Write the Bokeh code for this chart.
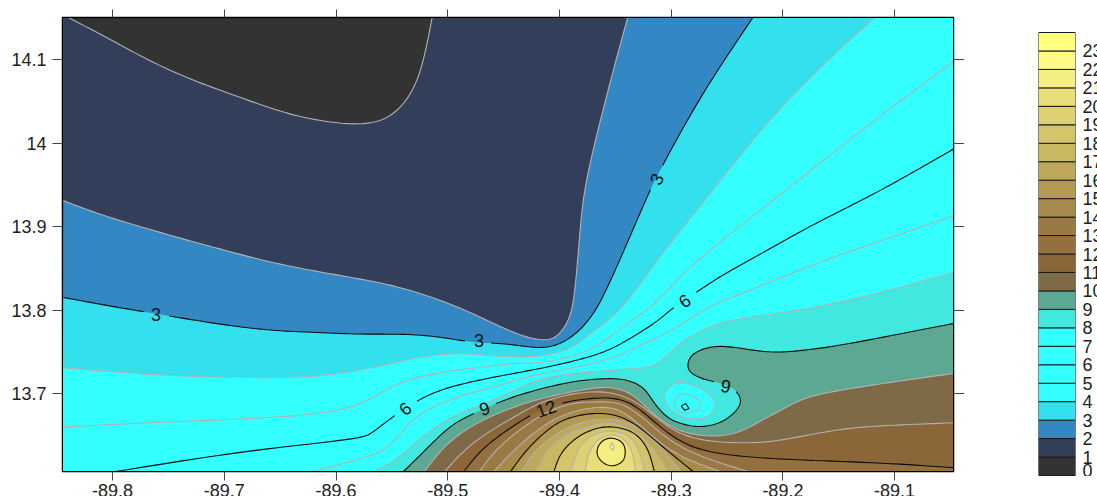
import numpy as np
from bokeh.embed import file_html
from bokeh.resources import INLINE
from bokeh.plotting import figure
from bokeh.layouts import row
from bokeh.models import LinearAxis, FixedTicker
from bokeh.core.properties import value

FONT = "Liberation Sans"

# axis limits and ticks
x_min, x_max = -89.8448, -89.0473
y_min, y_max = 13.6066, 14.1503
x_ticks = [-89.8, -89.7, -89.6, -89.5, -89.4, -89.3, -89.2, -89.1]
x_tick_labels = ["-89.8", "-89.7", "-89.6", "-89.5", "-89.4", "-89.3", "-89.2", "-89.1"]
y_ticks = [13.7, 13.8, 13.9, 14.0, 14.1]
y_tick_labels = ["13.7", "13.8", "13.9", "14", "14.1"]

# colour scale
levels = list(range(0, 25))
band_colors = ["#333333", "#333f5a", "#3388c4", "#33e0ee", "#33ffff", "#33ffff", "#33ffff", "#33ffff",
               "#40e8e0", "#5ca892", "#7f6a47", "#8a6638", "#947040", "#9a7a42", "#a88a4a", "#b29a52",
               "#bfa85a", "#c8b862", "#d4c56a", "#dfd072", "#eade78", "#f5ee80", "#fdfb85", "#ffff80"]

# contour lines (lon, lat)
lon_1 = [-89.839, -89.802, -89.766, -89.733, -89.697, -89.661, -89.631, -89.582, -89.555, -89.537, -89.526, -89.519, -89.514]
lat_1 = [14.150, 14.124, 14.098, 14.078, 14.060, 14.043, 14.031, 14.022, 14.029, 14.051, 14.080, 14.116, 14.150]
lon_2 = [-89.844, -89.810, -89.763, -89.709, -89.661, -89.616, -89.578, -89.542, -89.497, -89.464, -89.446, -89.428, -89.409, -89.399, -89.391, -89.387, -89.383, -89.379, -89.372, -89.363, -89.352, -89.339]
lat_2 = [13.931, 13.914, 13.895, 13.875, 13.858, 13.846, 13.837, 13.827, 13.807, 13.787, 13.776, 13.767, 13.764, 13.773, 13.791, 13.815, 13.871, 13.931, 13.979, 14.029, 14.086, 14.150]
lon_3 = [-89.844, -89.799, -89.763, -89.709, -89.661, -89.616, -89.578, -89.539, -89.509, -89.476, -89.452, -89.428, -89.417, -89.402, -89.384, -89.370, -89.360, -89.345, -89.323, -89.314, -89.273, -89.227]
lat_3 = [13.815, 13.804, 13.796, 13.784, 13.776, 13.773, 13.771, 13.771, 13.768, 13.761, 13.760, 13.756, 13.755, 13.758, 13.773, 13.795, 13.819, 13.863, 13.931, 13.957, 14.057, 14.150]
lon_4 = [-89.844, -89.781, -89.721, -89.652, -89.616, -89.578, -89.548, -89.518, -89.488, -89.459, -89.428, -89.412, -89.390, -89.372, -89.348, -89.330, -89.306, -89.270, -89.220, -89.170, -89.118]
lat_4 = [13.731, 13.724, 13.720, 13.719, 13.721, 13.728, 13.737, 13.745, 13.748, 13.745, 13.744, 13.746, 13.754, 13.772, 13.797, 13.827, 13.871, 13.931, 14.015, 14.086, 14.150]
lon_5 = [-89.844, -89.751, -89.647, -89.602, -89.578, -89.560, -89.539, -89.503, -89.473, -89.443, -89.417, -89.387, -89.363, -89.336, -89.315, -89.291, -89.255, -89.209, -89.130, -89.047]
lat_5 = [13.660, 13.666, 13.672, 13.679, 13.688, 13.701, 13.715, 13.726, 13.731, 13.736, 13.737, 13.745, 13.760, 13.787, 13.807, 13.841, 13.883, 13.931, 14.015, 14.098]
lon_6 = [-89.800, -89.676, -89.578, -89.569, -89.560, -89.548, -89.530, -89.509, -89.482, -89.461, -89.417, -89.387, -89.357, -89.333, -89.312, -89.298, -89.281, -89.255, -89.220, -89.172, -89.130, -89.094, -89.047]
lat_6 = [13.606, 13.632, 13.647, 13.652, 13.661, 13.673, 13.689, 13.703, 13.713, 13.719, 13.730, 13.739, 13.751, 13.769, 13.787, 13.803, 13.818, 13.841, 13.867, 13.903, 13.931, 13.957, 13.993]
lon_7 = [-89.622, -89.578, -89.562, -89.548, -89.533, -89.512, -89.488, -89.461, -89.417, -89.387, -89.354, -89.324, -89.291, -89.271, -89.231, -89.172, -89.112, -89.047]
lat_7 = [13.606, 13.622, 13.629, 13.643, 13.667, 13.685, 13.697, 13.707, 13.724, 13.731, 13.742, 13.760, 13.782, 13.801, 13.823, 13.855, 13.883, 13.913]
lon_8 = [-89.567, -89.548, -89.527, -89.503, -89.479, -89.461, -89.432, -89.417, -89.387, -89.342, -89.315, -89.306, -89.291, -89.276, -89.255, -89.231, -89.172, -89.112, -89.047]
lat_8 = [13.606, 13.619, 13.643, 13.667, 13.682, 13.691, 13.709, 13.717, 13.724, 13.729, 13.733, 13.743, 13.761, 13.773, 13.785, 13.791, 13.803, 13.821, 13.845]
lon_9 = [-89.540, -89.527, -89.509, -89.494, -89.477, -89.457, -89.432, -89.390, -89.357, -89.339, -89.324, -89.315, -89.303, -89.291, -89.276, -89.258, -89.244, -89.237, -89.244, -89.255, -89.273, -89.284, -89.285, -89.280, -89.264, -89.247, -89.217, -89.195, -89.157, -89.112, -89.047]
lat_9 = [13.606, 13.623, 13.647, 13.664, 13.676, 13.688, 13.700, 13.714, 13.718, 13.716, 13.706, 13.688, 13.671, 13.664, 13.660, 13.664, 13.676, 13.691, 13.706, 13.712, 13.718, 13.727, 13.737, 13.748, 13.756, 13.756, 13.750, 13.750, 13.756, 13.767, 13.784]
lon_10 = [-89.521, -89.506, -89.488, -89.461, -89.425, -89.385, -89.357, -89.336, -89.321, -89.306, -89.285, -89.255, -89.237, -89.220, -89.199, -89.181, -89.160, -89.130, -89.085, -89.047]
lat_10 = [13.606, 13.632, 13.653, 13.673, 13.691, 13.703, 13.708, 13.700, 13.682, 13.665, 13.652, 13.649, 13.655, 13.667, 13.682, 13.694, 13.701, 13.708, 13.717, 13.724]
lon_11 = [-89.503, -89.488, -89.470, -89.443, -89.417, -89.387, -89.357, -89.333, -89.315, -89.294, -89.267, -89.220, -89.190, -89.145, -89.101, -89.047]
lat_11 = [13.606, 13.628, 13.648, 13.670, 13.689, 13.700, 13.702, 13.691, 13.673, 13.653, 13.643, 13.641, 13.647, 13.658, 13.662, 13.665]
lon_12 = [-89.486, -89.470, -89.448, -89.423, -89.397, -89.372, -89.348, -89.330, -89.309, -89.288, -89.262, -89.220, -89.175, -89.101, -89.047]
lat_12 = [13.606, 13.632, 13.655, 13.676, 13.689, 13.694, 13.694, 13.683, 13.659, 13.640, 13.629, 13.623, 13.620, 13.616, 13.611]
lon_13 = [-89.472, -89.457, -89.434, -89.412, -89.390, -89.363, -89.345, -89.327, -89.309, -89.282, -89.230]
lat_13 = [13.606, 13.632, 13.658, 13.677, 13.688, 13.690, 13.688, 13.673, 13.652, 13.629, 13.606]
lon_14 = [-89.459, -89.443, -89.421, -89.399, -89.372, -89.349, -89.332, -89.309, -89.287, -89.255]
lat_14 = [13.606, 13.629, 13.655, 13.673, 13.683, 13.682, 13.667, 13.640, 13.622, 13.606]
lon_15 = [-89.444, -89.432, -89.417, -89.399, -89.378, -89.357, -89.336, -89.312, -89.280]
lat_15 = [13.606, 13.628, 13.649, 13.667, 13.675, 13.676, 13.667, 13.641, 13.606]
lon_16 = [-89.434, -89.423, -89.401, -89.381, -89.354, -89.327, -89.309, -89.291]
lat_16 = [13.606, 13.629, 13.653, 13.665, 13.670, 13.658, 13.635, 13.606]
lon_17 = [-89.421, -89.411, -89.392, -89.372, -89.354, -89.332, -89.315, -89.303]
lat_17 = [13.606, 13.632, 13.652, 13.661, 13.665, 13.654, 13.632, 13.606]
lon_18 = [-89.405, -89.399, -89.383, -89.365, -89.351, -89.333, -89.321, -89.315]
lat_18 = [13.606, 13.628, 13.649, 13.659, 13.660, 13.653, 13.634, 13.606]
lon_19 = [-89.390, -89.383, -89.370, -89.352, -89.336, -89.327, -89.324]
lat_19 = [13.606, 13.635, 13.651, 13.655, 13.648, 13.625, 13.606]
lon_20 = [-89.377, -89.373, -89.363, -89.352, -89.340, -89.334, -89.332]
lat_20 = [13.606, 13.632, 13.647, 13.651, 13.643, 13.625, 13.606]
lon_21 = [-89.353, -89.343, -89.341, -89.343, -89.352, -89.360, -89.366, -89.366, -89.361]
lat_21 = [13.647, 13.641, 13.629, 13.619, 13.613, 13.616, 13.625, 13.635, 13.644]
lon_22 = [-89.353, -89.351, -89.352, -89.355]
lat_22 = [13.641, 13.636, 13.632, 13.636]

# small low-value pocket east of the peak
lon_pocket_8 = [-89.306, -89.298, -89.288, -89.273, -89.260, -89.262, -89.271, -89.285, -89.298, -89.305]
lat_pocket_8 = [13.701, 13.712, 13.713, 13.706, 13.691, 13.679, 13.670, 13.670, 13.677, 13.689]
lon_pocket_7 = [-89.298, -89.294, -89.287, -89.276, -89.273, -89.278, -89.288, -89.295]
lat_pocket_7 = [13.689, 13.698, 13.700, 13.693, 13.685, 13.679, 13.676, 13.681]
lon_pocket_6 = [-89.287, -89.284, -89.288, -89.291]
lat_pocket_6 = [13.688, 13.682, 13.680, 13.685]

# contour labels
label_text = ["3", "3", "3", "6", "6", "9", "9", "12"]
label_level = [3, 3, 3, 6, 6, 9, 9, 12]
label_lon = [-89.761, -89.472, -89.313, -89.538, -89.288, -89.467, -89.251, -89.412]
label_lat = [13.795, 13.763, 13.957, 13.682, 13.811, 13.682, 13.709, 13.682]
label_deg = [0, 0, 62, 40, 35, 18, -10, 20]
label_gap = [10.5, 10.5, 10.5, 12, 12, 10.5, 10.5, 16]

contours = {1: (lon_1, lat_1), 2: (lon_2, lat_2), 3: (lon_3, lat_3), 4: (lon_4, lat_4), 5: (lon_5, lat_5),
            6: (lon_6, lat_6), 7: (lon_7, lat_7), 8: (lon_8, lat_8), 9: (lon_9, lat_9), 10: (lon_10, lat_10),
            11: (lon_11, lat_11), 12: (lon_12, lat_12), 13: (lon_13, lat_13), 14: (lon_14, lat_14),
            15: (lon_15, lat_15), 16: (lon_16, lat_16), 17: (lon_17, lat_17), 18: (lon_18, lat_18),
            19: (lon_19, lat_19), 20: (lon_20, lat_20), 21: (lon_21, lat_21), 22: (lon_22, lat_22)}

FW, FH = 891, 454
SX = FW / (x_max - x_min)
SY = FH / (y_max - y_min)
GREY = "#b2b2b2"
BLACK = "#0c0c0c"


def smooth(xs, ys, closed=False, n=8, passes=14):
    P = np.c_[np.asarray(xs) * SX, np.asarray(ys) * SY]
    if closed:
        P = np.r_[P[-1:], P, P[:2]]
    else:
        P = np.r_[2 * P[:1] - P[1:2], P, 2 * P[-1:] - P[-2:-1]]
    out = []
    for i in range(len(P) - 3):
        p0, p1, p2, p3 = P[i:i + 4]
        t0 = 0.0
        t1 = t0 + max(np.linalg.norm(p1 - p0), 1e-6) ** 0.5
        t2 = t1 + max(np.linalg.norm(p2 - p1), 1e-6) ** 0.5
        t3 = t2 + max(np.linalg.norm(p3 - p2), 1e-6) ** 0.5
        t = np.linspace(t1, t2, n, endpoint=False)[:, None]
        a1 = (t1 - t) / (t1 - t0) * p0 + (t - t0) / (t1 - t0) * p1
        a2 = (t2 - t) / (t2 - t1) * p1 + (t - t1) / (t2 - t1) * p2
        a3 = (t3 - t) / (t3 - t2) * p2 + (t - t2) / (t3 - t2) * p3
        b1 = (t2 - t) / (t2 - t0) * a1 + (t - t0) / (t2 - t0) * a2
        b2 = (t3 - t) / (t3 - t1) * a2 + (t - t1) / (t3 - t1) * a3
        out.append((t2 - t) / (t2 - t1) * b1 + (t - t1) / (t2 - t1) * b2)
    out = np.vstack(out)
    if closed:
        for _ in range(passes):
            out = (np.roll(out, 1, axis=0) + 2 * out + np.roll(out, -1, axis=0)) / 4
        out = np.vstack([out, out[:1]])
    else:
        out = np.vstack([out, P[-2:-1]])
        for _ in range(passes):
            out[1:-1] = (out[:-2] + 2 * out[1:-1] + out[2:]) / 4
    return out[:, 0] / SX, out[:, 1] / SY


def corners(level):
    if level == 1:
        return [(x_max, y_max), (x_max, y_min), (x_min, y_min), (x_min, y_max)]
    if level in (2, 3, 4):
        return [(x_max, y_max), (x_max, y_min), (x_min, y_min)]
    if level == 5:
        return [(x_max, y_min), (x_min, y_min)]
    if level <= 12:
        return [(x_max, y_min)]
    return []


p = figure(width=964, height=488, frame_width=FW, frame_height=FH,
           x_range=(x_min, x_max), y_range=(y_min, y_max),
           min_border_left=62, min_border_top=17, min_border_right=0, min_border_bottom=0,
           output_backend="svg", toolbar_location=None, background_fill_color=band_colors[0])
p.grid.visible = False
p.outline_line_color = "#000000"
p.outline_line_width = 1.5

lines = []
for lev, (lo, la) in contours.items():
    closed = lev == 21
    if lev == 22:
        sx, sy = np.r_[lo, lo[:1]], np.r_[la, la[:1]]
    else:
        sx, sy = smooth(lo, la, closed=closed)
    cs = corners(lev)
    px = list(sx) + [c[0] for c in cs]
    py = list(sy) + [c[1] for c in cs]
    p.patch(px, py, fill_color=band_colors[lev], line_color=None)
    gx, gy = np.array(sx, float), np.array(sy, float)
    for t, l, a, b, g in zip(label_text, label_level, label_lon, label_lat, label_gap):
        if l == lev:
            d = np.hypot((gx - a) * SX, (gy - b) * SY)
            gx[d < g] = np.nan
    lines.append((gx, gy, BLACK if lev % 3 == 0 else GREY))

# pocket: closed loops around lower values
px8, py8 = smooth(lon_pocket_8, lat_pocket_8, closed=True)
px7, py7 = smooth(lon_pocket_7, lat_pocket_7, closed=True)
p.patch(px8, py8, fill_color=band_colors[7], line_color=None)
lines.append((px8, py8, GREY))
lines.append((px7, py7, GREY))
lines.append((np.r_[lon_pocket_6, lon_pocket_6[:1]], np.r_[lat_pocket_6, lat_pocket_6[:1]], BLACK))

for c in (GREY, BLACK):
    for gx, gy, col in lines:
        if col == c:
            p.line(gx, gy, line_color=col, line_width=1.1)

p.text(x=label_lon, y=label_lat, text=label_text, angle=np.radians(label_deg).tolist(),
       text_font=value(FONT), text_font_size="18px", text_color="#111111",
       text_align="center", text_baseline="middle")

# axes
for ax in (p.xaxis[0], p.yaxis[0]):
    ax.major_label_text_font = FONT
    ax.major_label_text_font_size = "18px"
    ax.major_label_text_color = "#222222"
    ax.minor_tick_line_color = None
    ax.major_tick_in = 0
    ax.major_tick_line_color = "#444444"
    ax.axis_line_color = "#000000"
p.xaxis[0].ticker = FixedTicker(ticks=x_ticks)
p.xaxis[0].major_tick_out = 9
p.xaxis[0].major_label_standoff = 3
p.xaxis[0].major_label_overrides = dict(zip(x_ticks, x_tick_labels))
p.yaxis[0].ticker = FixedTicker(ticks=y_ticks)
p.yaxis[0].major_tick_out = 10
p.yaxis[0].major_label_standoff = 6
p.yaxis[0].major_label_overrides = dict(zip(y_ticks, y_tick_labels))

for side, ticks, out in (("above", x_ticks, 8), ("right", y_ticks, 11)):
    ax = LinearAxis(ticker=FixedTicker(ticks=ticks), major_tick_in=0, major_tick_out=out,
                    minor_tick_line_color=None, major_label_overrides={t: "" for t in ticks},
                    major_label_standoff=0, major_tick_line_color="#444444",
                    axis_line_color="#000000")
    p.add_layout(ax, side)

# colour legend (frame is taller than the bar so that it lines up with the main frame)
unit = 443 / 24
leg = figure(width=133, height=488, frame_width=37, frame_height=459,
             x_range=(0, 1), y_range=(levels[0] - 1 / unit, levels[-1] + 15 / unit),
             x_axis_type=None, y_axis_type=None,
             min_border_left=74, min_border_top=17, min_border_right=0, min_border_bottom=0,
             output_backend="svg", toolbar_location=None)
leg.grid.visible = False
leg.outline_line_color = None
leg.quad(left=0, right=1, bottom=levels[:-1], top=levels[1:], fill_color=band_colors,
         line_color="#1a1a1a", line_width=1)
leg_axis = LinearAxis(ticker=FixedTicker(ticks=levels[:-1]), major_tick_in=0, major_tick_out=0,
                      minor_tick_line_color=None, axis_line_color=None, major_label_standoff=7,
                      major_label_text_font=FONT, major_label_text_font_size="18px",
                      major_label_text_color="#222222")
leg.add_layout(leg_axis, "right")

open("out.html", "w").write(file_html(row(p, leg), INLINE))
